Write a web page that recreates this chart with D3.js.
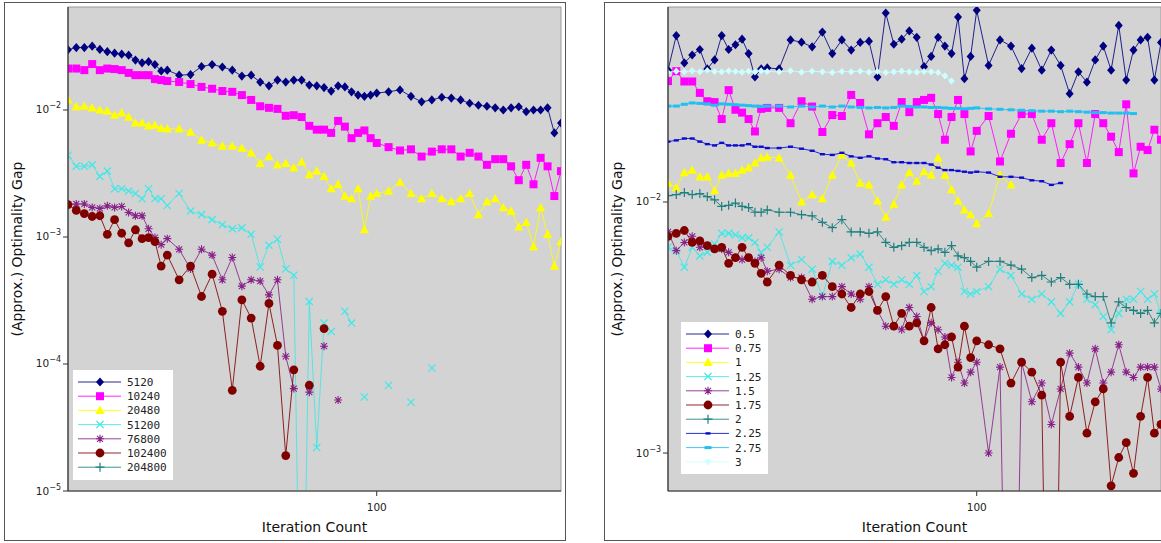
<!DOCTYPE html>
<html lang="en">
<head>
<meta charset="UTF-8">
<title>Optimality gap vs iteration count</title>
<script src="https://d3js.org/d3.v7.min.js"></script>
<style>
  body { margin: 0; background: #fff; }
  svg { display: block; }
</style>
</head>
<body>
<svg width="1161" height="543"></svg>
<script>
// iteration counts shared by every series (both panels)
let iterations = [36,37,38,39,40,41,42,43,44,45,46,47,48,49,50,
  52,54,56,58,60,62,64,66,68,70,72,74,76,78,80,82,84,86,88,90,92,94,96,98,100,
  104,108,112,116,120,124,128,132,136,140,144,148,152,156,160,164,168,172,176,180,184]

// ---- left panel: problem sizes ----
let sizeLabels = ["5120", "10240", "20480", "51200", "76800", "102400", "204800"]
let gap5120 = [0.0298,0.031,0.031,0.0318,0.030,0.0288,0.028,0.0275,0.027,0.0247,0.0235,0.024,0.0228,0.0203,0.0206,
  0.0188,0.019,0.022,0.0228,0.0218,0.0206,0.0185,0.0188,0.0166,0.0155,0.0172,0.0166,0.0172,0.0172,0.0157,0.0155,0.015,0.0141,0.0155,0.0152,0.0139,0.0131,0.0128,0.0131,0.0136,
  0.0139,0.0144,0.0128,0.0116,0.012,0.0126,0.0124,0.012,0.0113,0.0109,0.0107,0.0104,0.010,0.0104,0.0106,0.0097,0.010,0.010,0.0104,0.0066,0.0079]
let gap10240 = [0.0212,0.0212,0.0206,0.023,0.0206,0.0212,0.021,0.0206,0.0196,0.0188,0.0188,0.0188,0.0175,0.0172,0.0169,
  0.0166,0.016,0.0152,0.0147,0.0141,0.0139,0.0131,0.012,0.0107,0.0104,0.0102,0.009,0.0091,0.0088,0.0075,0.007,0.007,0.0066,0.0082,0.0074,0.006,0.0066,0.0069,0.006,0.0055,
  0.0051,0.0048,0.0049,0.0043,0.0047,0.0049,0.0049,0.0043,0.0046,0.0043,0.0037,0.0041,0.0041,0.0036,0.0028,0.0037,0.0026,0.0042,0.0036,0.0021,0.0033]
let gap20480 = [0.012,0.0106,0.0107,0.0104,0.010,0.0098,0.0091,0.0095,0.0088,0.0079,0.0079,0.0075,0.0076,0.0072,0.0071,
  0.0071,0.0067,0.0058,0.0055,0.0052,0.0052,0.005,0.0046,0.0038,0.0043,0.0037,0.0038,0.0035,0.0039,0.0031,0.0033,0.003,0.0024,0.0026,0.0021,0.002,0.0024,0.00114,0.0021,0.0022,
  0.0023,0.0027,0.0022,0.002,0.0022,0.002,0.0019,0.002,0.0022,0.0015,0.0019,0.002,0.0017,0.0016,0.0012,0.0013,0.00084,0.0017,0.00105,0.00059,0.00092]
let gap51200 = [0.0044,0.0036,0.0036,0.0037,0.003,0.0033,0.0024,0.0024,0.0023,0.0022,0.002,0.0024,0.002,0.002,0.00177,
  0.0022,0.0016,0.0015,0.00137,0.00125,0.00116,0.00118,0.00105,0.00058,0.00086,0.00096,0.00056,0.0005,1e-7,0.00031,2.2e-5,0.00021,0.00018,null,0.00026,0.00021,null,5.5e-5,null,null,
  6.8e-5,null,5.0e-5,null,9.3e-5,null,null,null,null,null,null,null,null,null,null,null,null,null,null,null,null]
let gap76800 = [0.0018,0.00182,0.00182,0.00171,0.00168,0.00176,0.00171,0.00174,0.00156,0.00147,0.00147,0.00116,0.00099,0.00087,0.00097,
  0.0008,0.00056,0.0008,0.00072,0.00046,0.00069,0.00041,0.00046,0.00045,0.00035,0.00046,0.000115,6.4e-5,null,6.0e-5,null,0.000138,null,5.2e-5,null,null,null,null,null,null]
let gap102400 = [0.0018,0.00162,0.00153,0.00145,0.00147,0.00105,0.00137,0.00107,0.0009,0.00114,0.00097,0.00099,0.00092,0.00059,0.00072,
  0.00046,0.00059,0.00034,0.00051,0.00026,6.2e-5,0.00032,0.00023,9.6e-5,0.0003,0.00014,1.9e-5,9.0e-5,null,6.8e-5,null,0.00019]
let gap204800 = [] // nothing above the 1e-5 floor

// ---- right panel: parameter values ----
let paramLabels = ["0.5", "0.75", "1", "1.25", "1.5", "1.75", "2", "2.25", "2.75", "3"]
let p05 = [0.0335,0.046,0.0358,0.0385,0.0405,0.0339,0.0368,0.046,0.0405,0.0423,0.0445,0.039,0.0315,0.0339,0.0342,
  0.0339,0.0442,0.0433,0.0415,0.0475,0.039,0.0442,0.0403,0.0432,0.0437,0.0315,0.0566,0.0425,0.0445,0.048,0.0453,0.0346,0.038,0.0453,0.0418,0.039,0.0545,0.031,0.038,0.058,
  0.035,0.0442,0.0418,0.034,0.041,0.0335,0.0403,0.035,0.027,0.033,0.030,0.0368,0.0418,0.0335,0.0505,0.0306,0.0403,0.0442,0.0453,0.0306,0.0432]
let p075 = [0.0303,0.0332,0.0302,0.0302,0.0272,0.0252,0.025,0.0214,0.0279,0.0233,0.0227,0.0214,0.0191,0.0235,0.0237,
  0.0237,0.0206,0.0252,0.024,0.019,0.0222,0.022,0.0267,0.0248,0.0186,0.0206,0.0218,0.0201,0.025,0.0228,0.025,0.0255,0.026,0.0224,0.0177,0.0218,0.0255,0.0224,0.0159,0.0192,
  0.022,0.0145,0.0187,0.0224,0.0224,0.0177,0.0206,0.0143,0.017,0.0206,0.0143,0.0224,0.0206,0.0182,0.0158,0.0245,0.013,0.0166,0.0161,0.0194,0.0177]
let p1 = [0.0119,0.0114,0.0131,0.0134,0.0126,0.0126,0.0111,0.0128,0.013,0.013,0.0134,0.0137,0.0143,0.015,0.0151,
  0.015,0.0128,0.010,0.0107,0.0103,0.0128,0.0154,0.0143,0.0119,0.0117,0.0101,0.0087,0.0098,0.0117,0.0131,0.0121,0.0132,0.0128,0.015,0.0128,0.0112,0.0101,0.0093,0.0089,0.0082,
  0.009,0.0128,0.0117]
let p125 = [0.0066,0.0064,0.0055,0.0066,0.0061,0.0063,0.0068,0.0075,0.0075,0.0074,0.0072,0.0072,0.0069,0.0063,0.0066,
  0.0076,0.0056,0.0059,0.0054,0.0042,0.0058,0.0056,0.006,0.0062,0.0055,0.0047,0.0049,0.0047,0.0049,0.0047,0.0051,0.0044,0.0046,0.0053,0.0057,0.0056,0.0055,0.0044,0.0043,0.0044,
  0.0046,0.0054,0.0051,0.0043,0.0041,0.0043,0.004,0.0036,0.004,0.0047,0.0041,0.0039,0.0035,0.0031,0.0036,0.0041,0.0041,0.0044,0.0041,0.0043,0.0036]
let p15 = [0.0076,0.0064,0.0069,0.0073,0.0066,0.0067,0.0065,0.0065,0.0063,0.006,0.0059,0.006,0.0058,0.006,0.0053,
  0.0054,0.005,0.005,0.0041,0.0042,0.0042,0.0046,0.0043,0.0041,0.0046,0.0037,0.0032,0.0032,0.0031,0.0038,0.0035,0.0028,0.0033,0.0031,0.0029,0.002,0.0023,0.0019,0.0021,0.0023,
  0.001,0.0022,1e-5,0.0023,0.0016,0.0019,0.0013,0.0018,0.0025,0.0022,0.0019,0.0026,0.0019,0.0021,0.0027,0.0021,0.002,0.0022,0.0022,0.0022,0.0018]
let p175 = [0.0073,0.0075,0.0077,0.0069,0.007,0.0067,0.0065,0.0066,0.0057,0.006,0.0066,0.006,0.0057,0.0052,0.0048,
  0.0056,0.0051,0.0049,0.0048,0.0051,0.0046,0.0043,0.0038,0.0043,0.0044,0.0037,0.0042,0.0032,0.0036,0.0032,0.0033,0.0028,0.0038,0.0026,0.0027,0.0029,0.0022,0.0032,0.0024,0.0028,
  0.0027,0.0026,0.0019,0.0023,0.0021,0.0017,1e-5,0.0023,0.0014,0.002,0.0012,0.0016,0.0018,0.00074,0.00096,0.0011,0.00083,0.0014,0.002,0.0012,0.0013]
let p2 = [0.0106,0.0107,0.0109,0.0107,0.0108,0.0105,0.0102,0.0096,0.0097,0.0099,0.0096,0.0095,0.0091,0.0091,0.0093,
  0.0091,0.0091,0.0089,0.0088,0.0083,0.0079,0.0085,0.0076,0.0076,0.0075,0.0076,0.0069,0.0066,0.0067,0.0069,0.0069,0.0066,0.0064,0.0065,0.0063,0.0067,0.0061,0.006,0.0058,0.0055,
  0.0058,0.0058,0.0056,0.0054,0.005,0.0051,0.0048,0.005,0.0047,0.0047,0.0043,0.0042,0.0042,0.0033,0.004,0.0038,0.0037,0.0036,0.0037,0.0033,0.0036]
let p225 = [0.0174,0.0176,0.0179,0.0179,0.0174,0.017,0.0168,0.0172,0.0168,0.0168,0.0168,0.017,0.0166,0.0166,0.0164,
  0.0164,0.0166,0.0163,0.016,0.0155,0.0154,0.0157,0.0152,0.015,0.0152,0.0149,0.0148,0.0144,0.0144,0.0143,0.0143,0.0143,0.0141,0.0137,0.0134,0.0134,0.0133,0.0132,0.0131,0.0132,
  0.0131,0.0126,0.0126,0.0125,0.0122,0.0121,0.0117,0.0119]
let p275 = [0.0241,0.0241,0.0245,0.0248,0.0247,0.0246,0.0243,0.0246,0.0245,0.0244,0.0243,0.0242,0.0241,0.024,0.0241,
  0.0241,0.0239,0.0241,0.0239,0.0241,0.0239,0.0241,0.0239,0.0238,0.0237,0.0238,0.0237,0.0238,0.0241,0.024,0.0239,0.0239,0.0238,0.0238,0.0237,0.0236,0.0236,0.0235,0.0236,0.0237,
  0.0235,0.0234,0.0233,0.0232,0.0231,0.023,0.023,0.0229,0.023,0.0229,0.0228,0.0227,0.0227,0.0226,0.0226,0.0226,0.0225]
let p3 = [0.0328,0.0332,0.033,0.0333,0.033,0.0334,0.0331,0.033,0.0333,0.0331,0.0329,0.0332,0.033,0.0333,0.0331,
  0.033,0.0333,0.0329,0.0332,0.033,0.0328,0.0331,0.033,0.0332,0.0329,0.0331,0.0328,0.033,0.0332,0.033,0.0329,0.0331,0.033,0.0328,0.0318,0.0303]

let yTicksLeft = [1e-2, 1e-3, 1e-4, 1e-5]
let yTicksRight = [1e-2, 1e-3]
let xTicks = [100]

let svg = d3.select("svg")

// marker drawing, one shape per series style
function drawMarker(g, kind, color) {
  if (kind == "diamond") g.append("path").attr("d", "M0,-4.6L4,0L0,4.6L-4,0Z").attr("fill", color)
  else if (kind == "square") g.append("rect").attr("x", -4).attr("y", -4).attr("width", 8).attr("height", 8).attr("fill", color)
  else if (kind == "triangle") g.append("path").attr("d", "M0,-4.8L4.6,3.6L-4.6,3.6Z").attr("fill", color)
  else if (kind == "circle") g.append("circle").attr("r", 4.4).attr("fill", color)
  else if (kind == "x") g.append("path").attr("d", "M-3.6,-3.6L3.6,3.6M-3.6,3.6L3.6,-3.6").attr("stroke", color).attr("stroke-width", 1.2)
  else if (kind == "star") g.append("path").attr("d", "M-4,0H4M0,-4V4M-3,-3L3,3M-3,3L3,-3").attr("stroke", color).attr("stroke-width", 1.1)
  else if (kind == "plus") g.append("path").attr("d", "M-4.5,0H4.5M0,-4.5V4.5").attr("stroke", color).attr("stroke-width", 1.2)
  else if (kind == "dash") g.append("rect").attr("x", -2.5).attr("y", -1.2).attr("width", 5).attr("height", 2.4).attr("fill", color)
  else if (kind == "wdash") g.append("rect").attr("x", -3.5).attr("y", -1.5).attr("width", 7).attr("height", 3).attr("fill", color)
  else if (kind == "sdiamond") g.append("path").attr("d", "M0,-3.6L3.2,0L0,3.6L-3.2,0Z").attr("fill", color)
}

function drawPanel(p) {
  let top = 7, bottom = 491
  let x = d3.scaleLog().domain([36, 184]).range([p.left, p.right])
  let y = d3.scaleLog().domain(p.yDomain).range([bottom, top])

  // outer frame + plot background
  svg.append("rect").attr("x", p.frameX + 0.5).attr("y", 2.5).attr("width", p.frameW).attr("height", 538)
    .attr("fill", "#fff").attr("stroke", "#555")
  svg.append("rect").attr("x", p.left).attr("y", top).attr("width", p.right - p.left).attr("height", bottom - top)
    .attr("fill", "#d3d3d3").attr("stroke", "#9a9a9a")

  let clipId = "clip" + p.name
  svg.append("clipPath").attr("id", clipId).append("rect")
    .attr("x", p.left).attr("y", top).attr("width", p.right - p.left).attr("height", bottom - top)
  let plot = svg.append("g").attr("clip-path", `url(#${clipId})`)

  let line = d3.line()
    .defined(d => d.v != null)
    .x(d => x(d.it))
    .y(d => y(d.v))

  p.series.forEach(function (s) {
    let pts = iterations.map((it, i) => ({ it: it, v: s.values[i] == undefined ? null : s.values[i] }))
    plot.append("path").datum(pts).attr("d", line)
      .attr("fill", "none").attr("stroke", s.color).attr("stroke-width", 1).attr("stroke-opacity", 0.85)
    pts.filter(d => d.v != null).forEach(function (d) {
      let g = plot.append("g").attr("transform", `translate(${x(d.it)},${y(d.v)})`)
      drawMarker(g, s.marker, s.color)
    })
  })

  // axes: left and bottom lines
  svg.append("line").attr("x1", p.left).attr("x2", p.left).attr("y1", top).attr("y2", bottom).attr("stroke", "#333").attr("stroke-width", 1.2)
  svg.append("line").attr("x1", p.left).attr("x2", p.right).attr("y1", bottom).attr("y2", bottom).attr("stroke", "#333").attr("stroke-width", 1.2)

  p.yTicks.forEach(function (v) {
    let ty = y(v)
    svg.append("line").attr("x1", p.left - 5).attr("x2", p.left).attr("y1", ty).attr("y2", ty).attr("stroke", "#333")
    let t = svg.append("text").attr("x", p.left - 7).attr("y", ty + 3.5)
      .attr("text-anchor", "end").attr("font-family", "DejaVu Sans").attr("font-size", 10.5).attr("fill", "#222")
    t.append("tspan").text("10")
    t.append("tspan").attr("dy", -5).attr("font-size", 8).text("\u2212" + Math.round(-Math.log10(v)))
  })
  xTicks.forEach(function (v) {
    let tx = x(v)
    svg.append("line").attr("x1", tx).attr("x2", tx).attr("y1", bottom).attr("y2", bottom + 5).attr("stroke", "#333")
    svg.append("text").attr("x", tx).attr("y", bottom + 20).attr("text-anchor", "middle")
      .attr("font-family", "DejaVu Sans").attr("font-size", 10.5).attr("fill", "#222").text(v)
  })

  svg.append("text").attr("x", (p.left + p.right) / 2).attr("y", 532).attr("text-anchor", "middle")
    .attr("font-family", "DejaVu Sans").attr("font-size", 14).attr("fill", "#111").text("Iteration Count")
  svg.append("text").attr("transform", `translate(${p.frameX + 18},249) rotate(-90)`).attr("text-anchor", "middle")
    .attr("font-family", "DejaVu Sans").attr("font-size", 14).attr("fill", "#111").text("(Approx.) Optimality Gap")

  // legend
  let lg = p.legend
  svg.append("rect").attr("x", lg.x).attr("y", lg.y).attr("width", lg.w).attr("height", lg.h).attr("fill", "#fff")
  p.series.forEach(function (s, i) {
    let ry = lg.y + 12 + i * 14.2
    svg.append("line").attr("x1", lg.x + 5).attr("x2", lg.x + 48).attr("y1", ry).attr("y2", ry)
      .attr("stroke", s.color).attr("stroke-width", 1).attr("stroke-opacity", 0.85)
    drawMarker(svg.append("g").attr("transform", `translate(${lg.x + 27},${ry})`), s.marker, s.color)
    svg.append("text").attr("x", lg.x + 54).attr("y", ry + 4).attr("font-family", "DejaVu Sans Mono")
      .attr("font-size", 11).attr("fill", "#222").text(s.label)
  })
}

let leftSeries = [
  { label: sizeLabels[0], values: gap5120, color: "#000080", marker: "diamond" },
  { label: sizeLabels[1], values: gap10240, color: "#ff00ff", marker: "square" },
  { label: sizeLabels[2], values: gap20480, color: "#ffff00", marker: "triangle" },
  { label: sizeLabels[3], values: gap51200, color: "#3ee8e8", marker: "x" },
  { label: sizeLabels[4], values: gap76800, color: "#882288", marker: "star" },
  { label: sizeLabels[5], values: gap102400, color: "#800000", marker: "circle" },
  { label: sizeLabels[6], values: gap204800, color: "#1f7f7f", marker: "plus" }
]
let rightSeries = [
  { label: paramLabels[0], values: p05, color: "#000080", marker: "diamond" },
  { label: paramLabels[1], values: p075, color: "#ff00ff", marker: "square" },
  { label: paramLabels[2], values: p1, color: "#ffff00", marker: "triangle" },
  { label: paramLabels[3], values: p125, color: "#3ee8e8", marker: "x" },
  { label: paramLabels[4], values: p15, color: "#882288", marker: "star" },
  { label: paramLabels[5], values: p175, color: "#800000", marker: "circle" },
  { label: paramLabels[6], values: p2, color: "#1f7f7f", marker: "plus" },
  { label: paramLabels[7], values: p225, color: "#0a0ad0", marker: "dash" },
  { label: paramLabels[8], values: p275, color: "#20c0f0", marker: "wdash" },
  { label: paramLabels[9], values: p3, color: "#ccffff", marker: "sdiamond" }
]

drawPanel({
  name: "L", frameX: 4, frameW: 561, left: 68, right: 561,
  yDomain: [1e-5, 0.0647], yTicks: yTicksLeft, series: leftSeries,
  legend: { x: 73, y: 370, w: 100, h: 110 }
})
drawPanel({
  name: "R", frameX: 604, frameW: 570, left: 668, right: 1161,
  yDomain: [7.06e-4, 0.0598], yTicks: yTicksRight, series: rightSeries,
  legend: { x: 681, y: 322, w: 87, h: 152 }
})
</script>
</body>
</html>
